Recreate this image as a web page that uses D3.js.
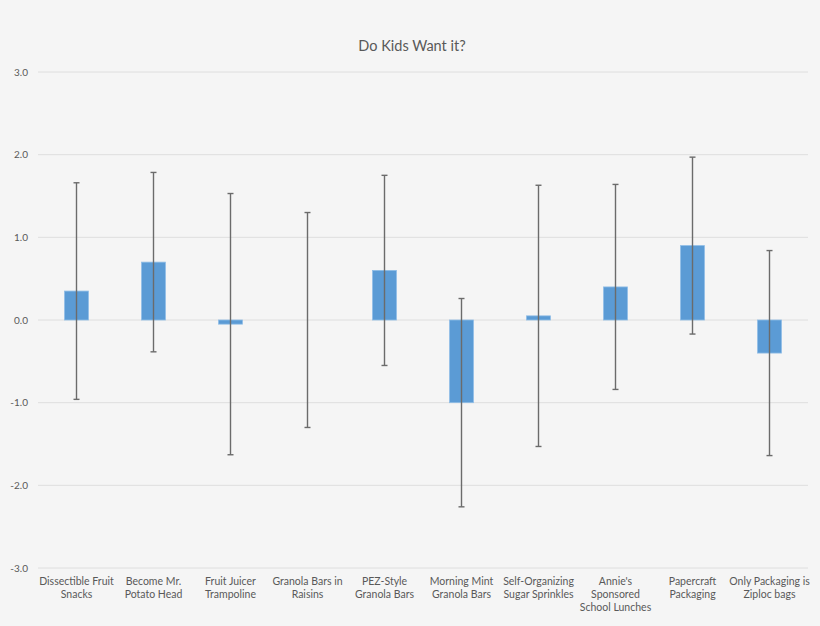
<!DOCTYPE html>
<html>
<head>
<meta charset="utf-8">
<script src="https://cdn.jsdelivr.net/npm/d3@7"></script>
<style>
  body { margin: 0; background: #f5f5f5; }
  text { font-family: Lato, "Open Sans", sans-serif; fill: #595959; }
</style>
</head>
<body>
<div id="chart"></div>
<script>
// data
const categories = [
    "Dissectible Fruit Snacks", "Become Mr. Potato Head", "Fruit Juicer Trampoline",
    "Granola Bars in Raisins", "PEZ-Style Granola Bars", "Morning Mint Granola Bars",
    "Self-Organizing Sugar Sprinkles", "Annie's Sponsored School Lunches",
    "Papercraft Packaging", "Only Packaging is Ziploc bags"
];
// wrapped label lines as in the original
const labelLines = [
    ["Dissectible Fruit", "Snacks"], ["Become Mr.", "Potato Head"], ["Fruit Juicer", "Trampoline"],
    ["Granola Bars in", "Raisins"], ["PEZ-Style", "Granola Bars"], ["Morning Mint", "Granola Bars"],
    ["Self-Organizing", "Sugar Sprinkles"], ["Annie's", "Sponsored", "School Lunches"],
    ["Papercraft", "Packaging"], ["Only Packaging is", "Ziploc bags"]
];
const means = [0.35, 0.70, -0.05, 0.0, 0.60, -1.0, 0.05, 0.40, 0.90, -0.40];
const errors = [1.31, 1.085, 1.58, 1.30, 1.15, 1.26, 1.58, 1.24, 1.07, 1.24];
const yTicks = [3, 2, 1, 0, -1, -2, -3];

const W = 820, H = 626;
const margin = { top: 72, right: 12, bottom: 58, left: 38 };
const width = W - margin.left - margin.right;
const height = H - margin.top - margin.bottom;

const svg = d3.select("#chart").append("svg")
    .attr("width", W).attr("height", H)
    .style("background", "#f5f5f5");

const g = svg.append("g").attr("transform", `translate(${margin.left},${margin.top})`);

const x = d3.scaleBand().domain(categories).range([0, width]).paddingInner(0.69).paddingOuter(0.345);
const y = d3.scaleLinear().domain([-3, 3]).range([height, 0]);

// gridlines
g.selectAll(".grid").data(yTicks).enter().append("line")
    .attr("x1", 0).attr("x2", width)
    .attr("y1", d => y(d)).attr("y2", d => y(d))
    .style("stroke", "#dedede").style("stroke-width", 1);

// y labels
g.selectAll(".ylab").data(yTicks).enter().append("text")
    .attr("x", -10).attr("y", d => y(d)).attr("dy", "0.35em")
    .attr("text-anchor", "end").style("font-size", "10px")
    .text(d => d3.format(".1f")(d).replace("−", "-"));

// bars
const data = categories.map((c, i) => ({ c, m: means[i], e: errors[i], lines: labelLines[i] }));
g.selectAll(".bar").data(data).enter().append("rect")
    .attr("x", d => x(d.c))
    .attr("width", x.bandwidth())
    .attr("y", d => y(Math.max(0, d.m)))
    .attr("height", d => Math.abs(y(d.m) - y(0)))
    .style("fill", "#5b9bd5").style("stroke", "#8fbde6").style("stroke-width", 0.8);

// error bars
const cx = d => x(d.c) + x.bandwidth() / 2;
g.selectAll(".err").data(data).enter().append("line")
    .attr("x1", cx).attr("x2", cx)
    .attr("y1", d => y(d.m + d.e)).attr("y2", d => y(d.m - d.e))
    .style("stroke", "#6b6b6b").style("stroke-width", 1.4);
[1, -1].forEach(s => {
    g.selectAll(".cap" + s).data(data).enter().append("line")
        .attr("x1", d => cx(d) - 3).attr("x2", d => cx(d) + 3)
        .attr("y1", d => y(d.m + s * d.e)).attr("y2", d => y(d.m + s * d.e))
        .style("stroke", "#6b6b6b").style("stroke-width", 1.4);
});

// x labels
const xl = g.selectAll(".xlab").data(data).enter().append("text")
    .attr("text-anchor", "middle").style("font-size", "10.5px")
    .attr("transform", d => `translate(${cx(d)},${height + 17})`);
xl.selectAll("tspan").data(d => d.lines).enter().append("tspan")
    .attr("x", 0).attr("dy", (d, i) => i === 0 ? 0 : 13)
    .text(d => d);

// title
svg.append("text")
    .attr("x", W / 2 + 2).attr("y", 51)
    .attr("text-anchor", "middle").style("font-size", "14.5px")
    .text("Do Kids Want it?");
</script>
</body>
</html>
